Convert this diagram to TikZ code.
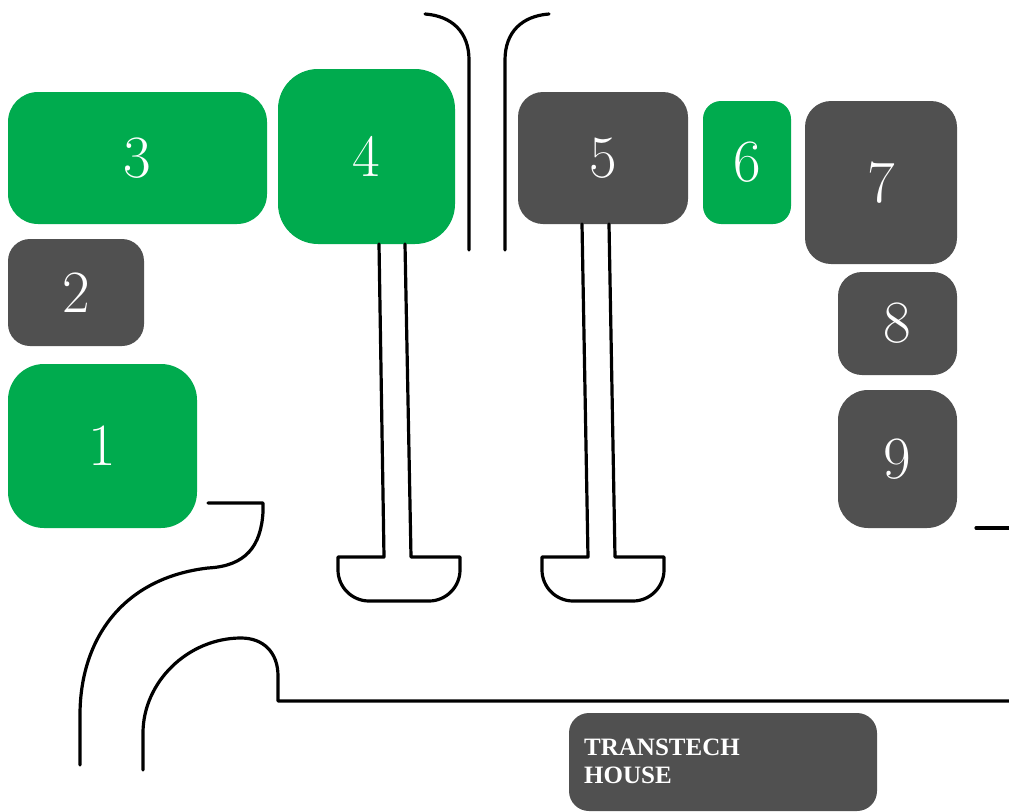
\documentclass[tikz,border=0pt]{standalone}
\usepackage{fontspec}
\newfontfamily\thfont{Liberation Serif}
\definecolor{pgreen}{HTML}{00AB4E}
\definecolor{pgray}{HTML}{505050}
\tikzset{
  unit/.style={inner sep=0pt, text=white, font=\fontsize{60}{60}\selectfont},
  gunit/.style={unit, fill=pgreen},
  dunit/.style={unit, fill=pgray},
  plan/.style={draw=black, line width=3.2pt, line join=round, line cap=round},
}
\begin{document}
\begin{tikzpicture}[x=1pt,y=-1pt]
\useasboundingbox (0,0) rectangle (1009,811);
% units
\node[gunit, minimum width=259pt, minimum height=132pt, rounded corners=30pt] (u3) at (137.5,158) {3};
\node[gunit, minimum width=177pt, minimum height=175pt, rounded corners=40pt] (u4) at (366.5,156.5) {4};
\node[dunit, minimum width=170pt, minimum height=132pt, rounded corners=25pt] (u5) at (603,158) {5};
\node[gunit, minimum width=88pt, minimum height=123pt, rounded corners=18pt] (u6) at (747,162.5) {6};
\node[dunit, minimum width=152pt, minimum height=163pt, rounded corners=26pt] (u7) at (881,182.5) {7};
\node[dunit, minimum width=136pt, minimum height=107pt, rounded corners=22pt] (u2) at (76,292.5) {2};
\node[dunit, minimum width=119pt, minimum height=103pt, rounded corners=24pt] (u8) at (897.5,323.5) {8};
\node[dunit, minimum width=119pt, minimum height=138pt, rounded corners=30pt] (u9) at (897.5,459) {9};
\node[gunit, minimum width=189pt, minimum height=164pt, rounded corners=36pt] (u1) at (102.5,446) {1};
\node[fill=pgray, minimum width=308pt, minimum height=98pt, rounded corners=20pt, inner sep=0pt] (th) at (723,762) {};
\node[anchor=north west, text=white, align=left, inner sep=0pt,
      font=\thfont\fontsize{25}{28}\selectfont\bfseries] (thlabel) at (584,739) {TRANSTECH\\HOUSE};
% corridor at the top
\draw[plan] (425,14) .. controls (452,16) and (469,32) .. (469,60) -- (469,250);
\draw[plan] (549,14) .. controls (522,16) and (505,32) .. (505,60) -- (505,250);
% pole of unit 4
\draw[plan] (379,244) -- (384,557) -- (338,557) -- (338,570)
  .. controls (338,587) and (352,601) .. (369,601) -- (429,601)
  .. controls (446,601) and (460,587) .. (460,570) -- (460,557) -- (411,557) -- (405,244);
% pole of unit 5
\draw[plan] (582,224) -- (588,557) -- (542,557) -- (542,570)
  .. controls (542,587) and (556,601) .. (573,601) -- (633,601)
  .. controls (650,601) and (664,587) .. (664,570) -- (664,557) -- (615,557) -- (609,224);
% road on the left
\draw[plan] (208,503) -- (263,503) -- (263,512)
  .. controls (261,546) and (246,566) .. (208,568)
  .. controls (122,578) and (80,640) .. (80,715) -- (80,765);
\draw[plan] (143,770) -- (143,733)
  .. controls (143,682) and (188,638) .. (241,638)
  .. controls (263,638) and (278,652) .. (278,676) -- (278,701) -- (1012,701);
\draw[plan] (976,528) -- (1012,528);
\end{tikzpicture}
\end{document}
